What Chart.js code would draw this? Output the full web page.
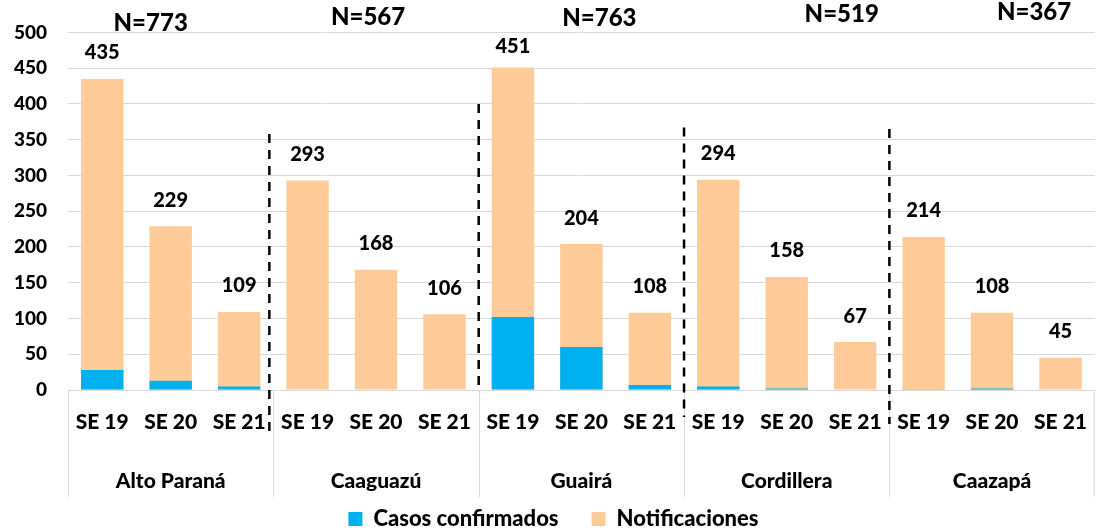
<!DOCTYPE html>
<html>
<head>
<meta charset="utf-8">
<script src="https://cdn.jsdelivr.net/npm/chart.js@4.4.0/dist/chart.umd.min.js"></script>
<style>
  html, body { margin: 0; padding: 0; background: #ffffff; }
  #box { width: 1107px; height: 532px; position: relative; }
</style>
</head>
<body>
<div id="box"><canvas id="notiChart"></canvas></div>
<script>
// datos
var semanas = ["SE 19", "SE 20", "SE 21", "SE 19", "SE 20", "SE 21", "SE 19", "SE 20", "SE 21", "SE 19", "SE 20", "SE 21", "SE 19", "SE 20", "SE 21"];
var departamentos = ["Alto Paraná", "Caaguazú", "Guairá", "Cordillera", "Caazapá"];
var totalesN = ["N=773", "N=567", "N=763", "N=519", "N=367"];
var notificaciones = [435, 229, 109, 293, 168, 106, 451, 204, 108, 294, 158, 67, 214, 108, 45];
var confirmados = [28, 13, 5, 0, 0, 0, 102, 60, 7, 5, 2, 0, 1, 2, 0];
var yTicks = [0, 50, 100, 150, 200, 250, 300, 350, 400, 450, 500];

var fuente = "Lato, 'DejaVu Sans', sans-serif";
var peso = "900";

// posicion de los textos N= (desplazamiento desde el centro del grupo)
var nOffsetX = [-20, -8, 18, 55, 42];
var nPosY = [23, 17, 18, 14, 12];

// lineas punteadas entre grupos: valor superior y extension bajo el eje (px)
var cortesTop = [358, 400, 367, 365];
var cortesBajo = [41, 0, 27, 34];

// etiquetas de total, departamentos, separadores y lineas punteadas
var dibujarExtras = {
  id: "dibujarExtras",
  afterDraw: function (chart) {
    var ctx = chart.ctx;
    var x = chart.scales.x;
    var y = chart.scales.y;
    var paso = x.getPixelForValue(1) - x.getPixelForValue(0);
    var base = chart.chartArea.bottom;

    ctx.save();
    // separadores grises del eje de categorias
    ctx.strokeStyle = "#d9d9d9";
    ctx.lineWidth = 1;
    for (var g = 0; g <= departamentos.length; g++) {
      var xs = Math.round(x.getPixelForValue(g * 3) - paso / 2) + 0.5;
      if (g == departamentos.length) xs = chart.chartArea.right - 0.5;
      ctx.beginPath();
      ctx.moveTo(xs, base);
      ctx.lineTo(xs, base + 107);
      ctx.stroke();
    }

    // lineas punteadas
    ctx.strokeStyle = "#000000";
    ctx.lineWidth = 2.5;
    ctx.setLineDash([9, 7]);
    for (var k = 0; k < cortesTop.length; k++) {
      var xd = x.getPixelForValue((k + 1) * 3) - paso / 2 - (k == 0 ? 4 : 0);
      ctx.beginPath();
      ctx.moveTo(xd, y.getPixelForValue(cortesTop[k]));
      ctx.lineTo(xd, base + cortesBajo[k]);
      ctx.stroke();
    }
    ctx.setLineDash([]);

    ctx.fillStyle = "#000000";
    ctx.textAlign = "center";
    ctx.textBaseline = "middle";

    // nombres de departamentos (segundo nivel del eje)
    ctx.font = peso + " 21px " + fuente;
    departamentos.forEach(function (d, g) {
      ctx.fillText(d, x.getPixelForValue(g * 3 + 1), base + 91);
    });

    // totales sobre las barras
    ctx.font = peso + " 20px " + fuente;
    notificaciones.forEach(function (v, i) {
      var py = Math.max(y.getPixelForValue(v) - 26, 47);
      ctx.fillText(String(v), x.getPixelForValue(i), py);
    });

    // N por departamento
    ctx.font = peso + " 24px " + fuente;
    totalesN.forEach(function (t, g) {
      var cx = x.getPixelForValue(g * 3 + 1) + nOffsetX[g];
      ctx.fillText(t, cx, nPosY[g]);
    });
    ctx.restore();
  },
};

var ctxNoti = document.getElementById("notiChart");
var chartNoti = new Chart(ctxNoti, {
  type: "bar",
  data: {
    labels: semanas,
    datasets: [
      {
        label: "Casos confirmados",
        data: confirmados,
        backgroundColor: "#00b0f0",
        borderWidth: 0,
        barPercentage: 0.62,
        categoryPercentage: 1,
        order: 0,
      },
      {
        label: "Notificaciones",
        data: notificaciones,
        backgroundColor: "#ffcc99",
        borderWidth: 0,
        barPercentage: 0.62,
        categoryPercentage: 1,
        order: 1,
      },
    ],
  },
  options: {
    responsive: true,
    maintainAspectRatio: false,
    animation: false,
    layout: { padding: { top: 32, right: 0, left: 0, bottom: -8 } },
    plugins: {
      tooltip: { enabled: false },
      legend: {
        position: "bottom",
        labels: {
          color: "#000000",
          font: { family: fuente, size: 22, weight: peso },
          boxWidth: 14,
          boxHeight: 14,
          padding: 33,
        },
      },
    },
    scales: {
      x: {
        stacked: true,
        grid: { display: false, drawTicks: false },
        border: { display: true, color: "#d9d9d9", width: 1 },
        ticks: {
          color: "#000000",
          font: { family: fuente, size: 21, weight: peso },
          padding: 20,
          maxRotation: 0,
          autoSkip: false,
        },
        afterFit: function (scale) {
          scale.height = 85;
        },
      },
      y: {
        stacked: false,
        min: 0,
        max: 500,
        grid: { color: "#d9d9d9", lineWidth: 1, drawTicks: false },
        border: { display: false },
        afterBuildTicks: function (scale) {
          scale.ticks = yTicks.map(function (v) { return { value: v }; });
        },
        ticks: {
          color: "#000000",
          font: { family: fuente, size: 19, weight: peso },
          padding: 21,
        },
        afterFit: function (scale) {
          scale.width = 68;
        },
      },
    },
  },
  plugins: [dibujarExtras],
});
</script>
</body>
</html>
